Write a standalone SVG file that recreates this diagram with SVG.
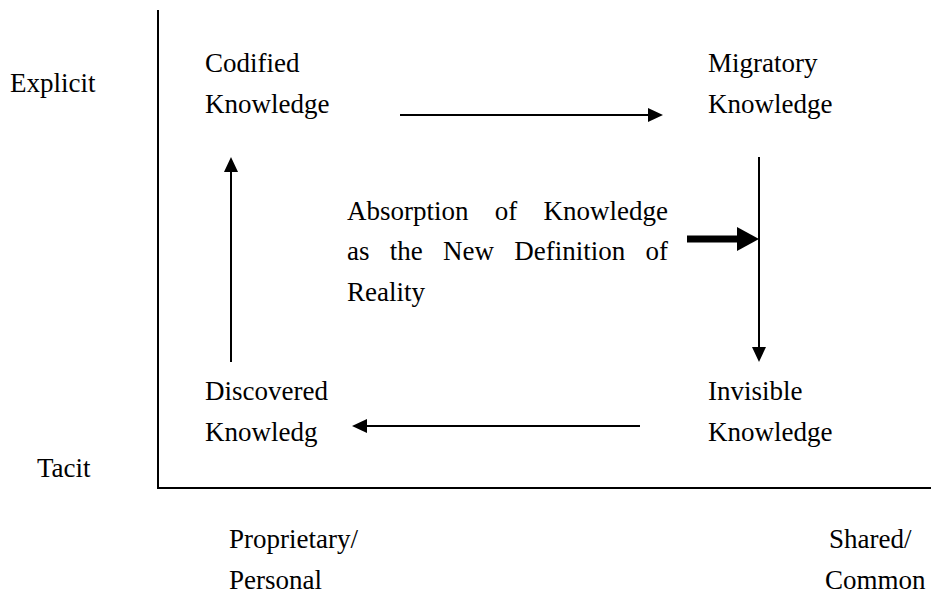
<svg xmlns="http://www.w3.org/2000/svg" width="934" height="598" viewBox="0 0 934 598">
<style>
text{font-family:"Liberation Serif","Times New Roman",serif;font-size:27px;fill:#000}
.ln{stroke:#000;stroke-width:2;fill:none}
.hd{fill:#000}
</style>
<rect width="934" height="598" fill="#fff"/>
<g id="axes">
<line class="ln" x1="158" y1="10" x2="158" y2="489"/>
<line class="ln" x1="157" y1="488" x2="931" y2="488" stroke-width="2.5"/>
</g>
<g id="axis-labels">
<text x="10" y="92">Explicit</text>
<text x="37" y="477">Tacit</text>
<text x="229" y="548">Proprietary/</text>
<text x="229" y="589">Personal</text>
<text x="829" y="548">Shared/</text>
<text x="825" y="589">Common</text>
</g>
<g id="codified"><text x="205" y="72">Codified</text><text x="205" y="113">Knowledge</text></g>
<g id="migratory"><text x="708" y="72">Migratory</text><text x="708" y="113">Knowledge</text></g>
<g id="discovered"><text x="205" y="400">Discovered</text><text x="205" y="441">Knowledg</text></g>
<g id="invisible"><text x="708" y="400">Invisible</text><text x="708" y="441">Knowledge</text></g>
<g id="absorption">
<text y="220"><tspan x="347">Absorption</tspan><tspan x="494.75">of</tspan><tspan x="543.5">Knowledge</tspan></text>
<text y="260"><tspan x="347">as</tspan><tspan x="389.75">the</tspan><tspan x="443">New</tspan><tspan x="514.25">Definition</tspan><tspan x="645.5">of</tspan></text>
<text x="347" y="301">Reality</text>
</g>
<g id="connectors">
<line class="ln" x1="400" y1="115" x2="649" y2="115"/>
<polygon class="hd" points="648,108 663,115 648,122"/>
<line class="ln" x1="759" y1="157" x2="759" y2="348"/>
<polygon class="hd" points="752,347 759,362 766,347"/>
<line class="ln" x1="640" y1="426" x2="366" y2="426"/>
<polygon class="hd" points="367,419 352,426 367,433"/>
<line class="ln" x1="231" y1="362" x2="231" y2="171"/>
<polygon class="hd" points="224,172 231,157 238,172"/>
<rect class="hd" x="687" y="235.5" width="51" height="7"/>
<polygon class="hd" points="737,227 759,239 737,251"/>
</g>
</svg>
